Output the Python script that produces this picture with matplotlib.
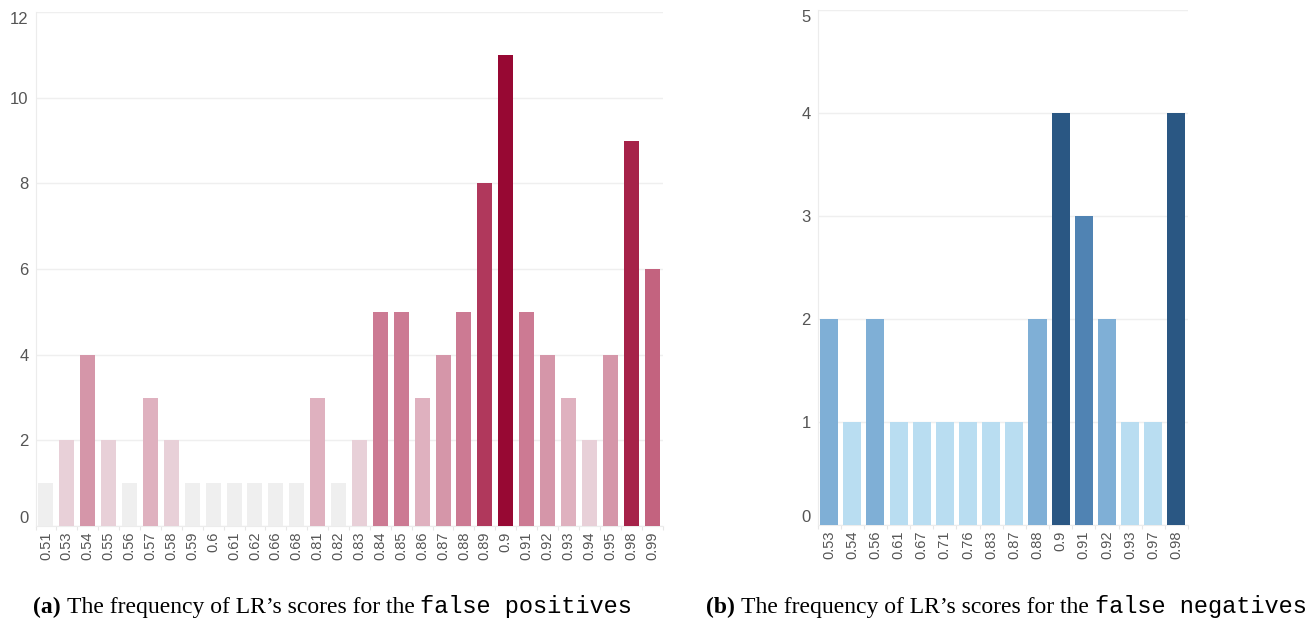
import matplotlib
matplotlib.use("Agg")
import matplotlib.pyplot as plt
import numpy as np

# ---------------- data ----------------
fp_scores = ["0.51", "0.53", "0.54", "0.55", "0.56", "0.57", "0.58", "0.59", "0.6",
             "0.61", "0.62", "0.66", "0.68", "0.81", "0.82", "0.83", "0.84", "0.85",
             "0.86", "0.87", "0.88", "0.89", "0.9", "0.91", "0.92", "0.93", "0.94",
             "0.95", "0.98", "0.99"]
fp_counts = [1, 2, 4, 2, 1, 3, 2, 1, 1, 1, 1, 1, 1, 3, 1, 2, 5, 5, 3, 4, 5, 8, 11,
             5, 4, 3, 2, 4, 9, 6]

fn_scores = ["0.53", "0.54", "0.56", "0.61", "0.67", "0.71", "0.76", "0.83", "0.87",
             "0.88", "0.9", "0.91", "0.92", "0.93", "0.97", "0.98"]
fn_counts = [2, 1, 2, 1, 1, 1, 1, 1, 1, 2, 4, 3, 2, 1, 1, 4]

fp_yticks = [0, 2, 4, 6, 8, 10, 12]
fn_yticks = [0, 1, 2, 3, 4, 5]

caption_a = ("(a)", "The frequency of LR\u2019s scores for the", "false positives")
caption_b = ("(b)", "The frequency of LR\u2019s scores for the", "false negatives")

# colour ramps (by count level)
pink = {1: "#efefef", 2: "#e8d0d8", 3: "#dfb1bf", 4: "#d596a9", 5: "#cc7a93",
        6: "#c3637f", 8: "#b0385c", 9: "#a62249", 11: "#970833"}
blue = {1: "#b9ddf1", 2: "#7fafd6", 3: "#5083b3", 4: "#2a5783"}

W, H = 1314, 619
fig = plt.figure(figsize=(W / 100, H / 100), dpi=100)
TICKFONT = "Liberation Sans"


def px_axes(x0, y0, x1, y1):
    return fig.add_axes([x0 / W, 1 - y1 / H, (x1 - x0) / W, (y1 - y0) / H])


def draw(ax, cats, vals, cmap, ymax, yticks, width):
    x = np.arange(len(cats))
    ax.bar(x, vals, width=width, color=[cmap[v] for v in vals], zorder=3,
           edgecolor="none")
    ax.set_xlim(-0.5, len(cats) - 0.5)
    ax.set_ylim(0, ymax)
    ax.set_yticks(yticks)
    ax.set_yticklabels([str(t) for t in yticks], fontfamily=TICKFONT)
    ax.set_xticks(x)
    ax.set_xticklabels(cats, rotation=90, va="top", ha="center", fontfamily=TICKFONT)
    ax.set_xticks(np.arange(len(cats) + 1) - 0.5, minor=True)
    ax.tick_params(axis="x", which="major", length=0, pad=4, labelsize=10.5,
                   labelcolor="#555555")
    ax.tick_params(axis="x", which="minor", length=3, color="#e6e6e6", width=0.8)
    ax.tick_params(axis="y", length=0, pad=5, labelsize=12, labelcolor="#555555")
    ax.grid(axis="y", color="#efefef", linewidth=1, zorder=0)
    for s in ["top", "right"]:
        ax.spines[s].set_visible(False)
    ax.spines["left"].set_color("#ececec")
    ax.spines["bottom"].set_color("#ececec")
    labs = ax.get_yticklabels()
    labs[0].set_va("bottom")
    labs[-1].set_va("top")


ax1 = px_axes(35.5, 12, 662.5, 526)
draw(ax1, fp_scores, fp_counts, pink, 12, fp_yticks, 0.72)

ax2 = px_axes(817.5, 10, 1188, 525)
draw(ax2, fn_scores, fn_counts, blue, 5, fn_yticks, 0.78)


def caption(x0, y, parts):
    fs = 17
    t1 = fig.text(x0 / W, 1 - y / H, parts[0], fontsize=fs, va="baseline",
                  ha="left", family="Liberation Serif", weight="bold")
    t2 = fig.text(0, 0, parts[1], fontsize=fs, va="baseline", ha="left",
                  family="Liberation Serif")
    t3 = fig.text(0, 0, parts[2], fontsize=fs, va="baseline", ha="left",
                  family="Liberation Mono")
    r = fig.canvas.get_renderer()
    space = 6
    b1 = t1.get_window_extent(renderer=r)
    t2.set_x((b1.x1 + space) / W)
    t2.set_y(t1.get_position()[1])
    b2 = t2.get_window_extent(renderer=r)
    t3.set_x((b2.x1 + space) / W)
    t3.set_y(t1.get_position()[1])


caption(33, 613, caption_a)
caption(706, 613, caption_b)

fig.savefig("out.png", dpi=100, facecolor="white")
